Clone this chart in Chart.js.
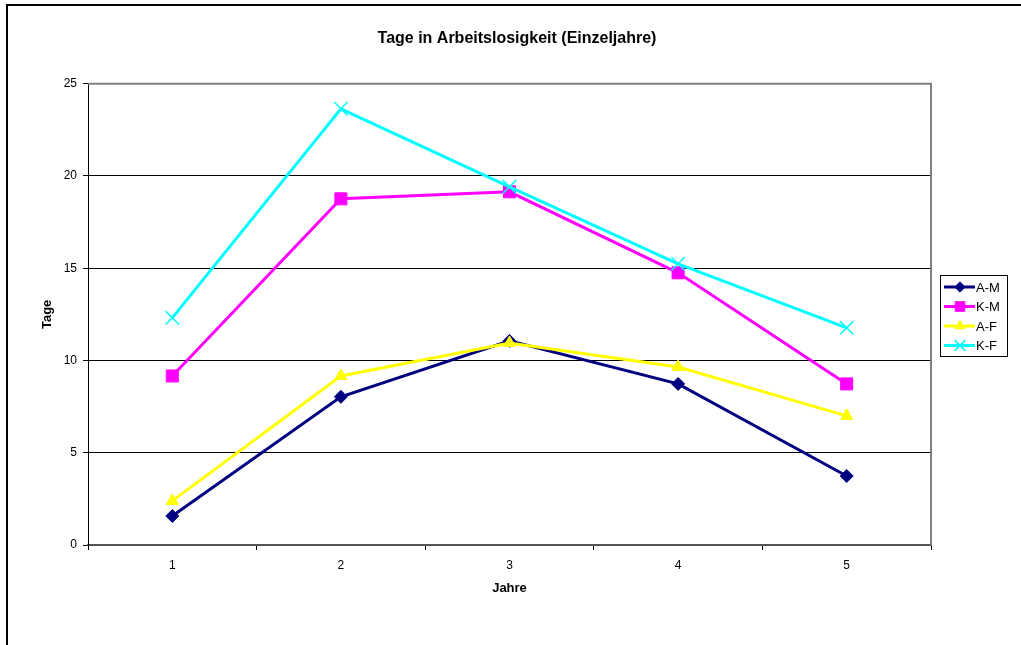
<!DOCTYPE html>
<html>
<head>
<meta charset="utf-8">
<script src="https://cdn.jsdelivr.net/npm/chart.js@4/dist/chart.umd.min.js"></script>
<style>
  body { margin: 0; background: #fff; }
  #wrap { width: 1021px; height: 645px; }
</style>
</head>
<body>
<div id="wrap"><canvas id="chart" width="1021" height="645"></canvas></div>
<script>
const years = ["1", "2", "3", "4", "5"];
const aM = [1.57, 8.03, 11.06, 8.73, 3.74];
const kM = [9.16, 18.76, 19.14, 14.75, 8.73];
const aF = [2.39, 9.16, 10.95, 9.65, 7.0];
const kF = [12.31, 23.64, 19.41, 15.24, 11.77];
const yTicks = [0, 5, 10, 15, 20, 25];

const font = "'Liberation Sans', Arial, sans-serif";

// outer frame (top + left) and plot border
const frame = {
    id: "frame",
    beforeDraw(chart) {
        const ctx = chart.ctx;
        ctx.save();
        ctx.strokeStyle = "#000";
        ctx.lineWidth = 2;
        ctx.beginPath();
        ctx.moveTo(7, 645);
        ctx.lineTo(7, 5);
        ctx.lineTo(1021, 5);
        ctx.stroke();
        ctx.restore();
    },
    beforeDatasetsDraw(chart) {
        const a = chart.chartArea;
        const ctx = chart.ctx;
        ctx.save();
        ctx.strokeStyle = "#808080";
        ctx.lineWidth = 2;
        ctx.beginPath();
        ctx.moveTo(a.left, a.top);
        ctx.lineTo(a.right, a.top);
        ctx.lineTo(a.right, a.bottom);
        ctx.stroke();
        ctx.restore();
    }
};

// legend: line with marker, boxed
const lineLegend = {
    id: "lineLegend",
    afterDraw(chart) {
        const ctx = chart.ctx;
        const sets = chart.data.datasets;
        const x = 940, y = 275, w = 67, rowH = 19.5;
        ctx.save();
        ctx.fillStyle = "#fff";
        ctx.fillRect(x, y, w, rowH * sets.length + 3);
        ctx.strokeStyle = "#000";
        ctx.lineWidth = 1;
        ctx.strokeRect(x + 0.5, y + 0.5, w, rowH * sets.length + 3);
        sets.forEach((ds, i) => {
            const cy = y + 12 + i * rowH;
            ctx.strokeStyle = ds.borderColor;
            ctx.lineWidth = 3;
            ctx.beginPath();
            ctx.moveTo(x + 4, cy);
            ctx.lineTo(x + 35, cy);
            ctx.stroke();
            ctx.fillStyle = ds.pointBackgroundColor;
            ctx.strokeStyle = ds.pointBorderColor;
            ctx.lineWidth = ds.pointBorderWidth || 1;
            Chart.helpers.drawPoint(ctx, {
                pointStyle: ds.pointStyle,
                radius: ds.pointRadius * 0.8,
                borderWidth: ds.pointBorderWidth || 1,
                rotation: 0
            }, x + 20, cy);
            ctx.fillStyle = "#000";
            ctx.font = "13px " + font;
            ctx.textAlign = "left";
            ctx.textBaseline = "middle";
            ctx.fillText(ds.label, x + 36, cy + 1);
        });
        ctx.restore();
    }
};

function series(label, data, color, style, radius, order) {
    return {
        label: label,
        data: data,
        borderColor: color,
        backgroundColor: color,
        pointBackgroundColor: color,
        pointBorderColor: color,
        pointBorderWidth: style === "crossRot" ? 1.5 : 1,
        pointStyle: style,
        pointRadius: radius,
        pointHoverRadius: radius,
        borderWidth: 3,
        tension: 0,
        order: order
    };
}

new Chart(document.getElementById("chart"), {
    type: "line",
    data: {
        labels: years,
        datasets: [
            series("A-M", aM, "#000080", "rectRot", 6.5, 4),
            series("K-M", kM, "#FF00FF", "rect", 8.5, 3),
            series("A-F", aF, "#FFFF00", "triangle", 7, 2),
            series("K-F", kF, "#00FFFF", "crossRot", 9.5, 1)
        ]
    },
    options: {
        responsive: false,
        animation: false,
        layout: { padding: { left: 13, right: 0, top: 2, bottom: 45 } },
        plugins: {
            legend: { display: false },
            tooltip: { enabled: false },
            title: {
                display: true,
                text: "Tage in Arbeitslosigkeit (Einzeljahre)",
                color: "#000",
                font: { family: font, size: 16, weight: "bold" },
                padding: { top: 27, bottom: 35.5 }
            }
        },
        scales: {
            x: {
                offset: true,
                grid: {
                    offset: true,
                    drawOnChartArea: false,
                    tickLength: 5,
                    color: "#000"
                },
                border: { color: "#555", width: 2 },
                ticks: {
                    color: "#000",
                    padding: 8,
                    font: { family: font, size: 12 }
                },
                title: {
                    display: true,
                    text: "Jahre",
                    color: "#000",
                    font: { family: font, size: 13, weight: "bold" },
                    padding: { top: 0, bottom: 4 }
                }
            },
            y: {
                min: 0,
                max: 25,
                afterBuildTicks: s => { s.ticks = yTicks.map(v => ({ value: v })); },
                afterFit: s => { s.width = 75; },
                grid: {
                    color: c => (c.tick && c.tick.value === 25 ? "rgba(0,0,0,0)" : "#000"),
                    tickColor: "#000",
                    tickLength: 5
                },
                border: { color: "#000", width: 1 },
                ticks: {
                    color: "#000",
                    padding: 6,
                    font: { family: font, size: 12 }
                },
                title: {
                    display: true,
                    text: "Tage",
                    color: "#000",
                    font: { family: font, size: 13, weight: "bold" },
                    padding: { top: 27, bottom: 0 }
                }
            },
            yRight: {
                position: "right",
                display: true,
                grid: { display: false },
                border: { display: false },
                ticks: { display: false },
                afterFit: s => { s.width = 90; }
            }
        }
    },
    plugins: [frame, lineLegend]
});
</script>
</body>
</html>
